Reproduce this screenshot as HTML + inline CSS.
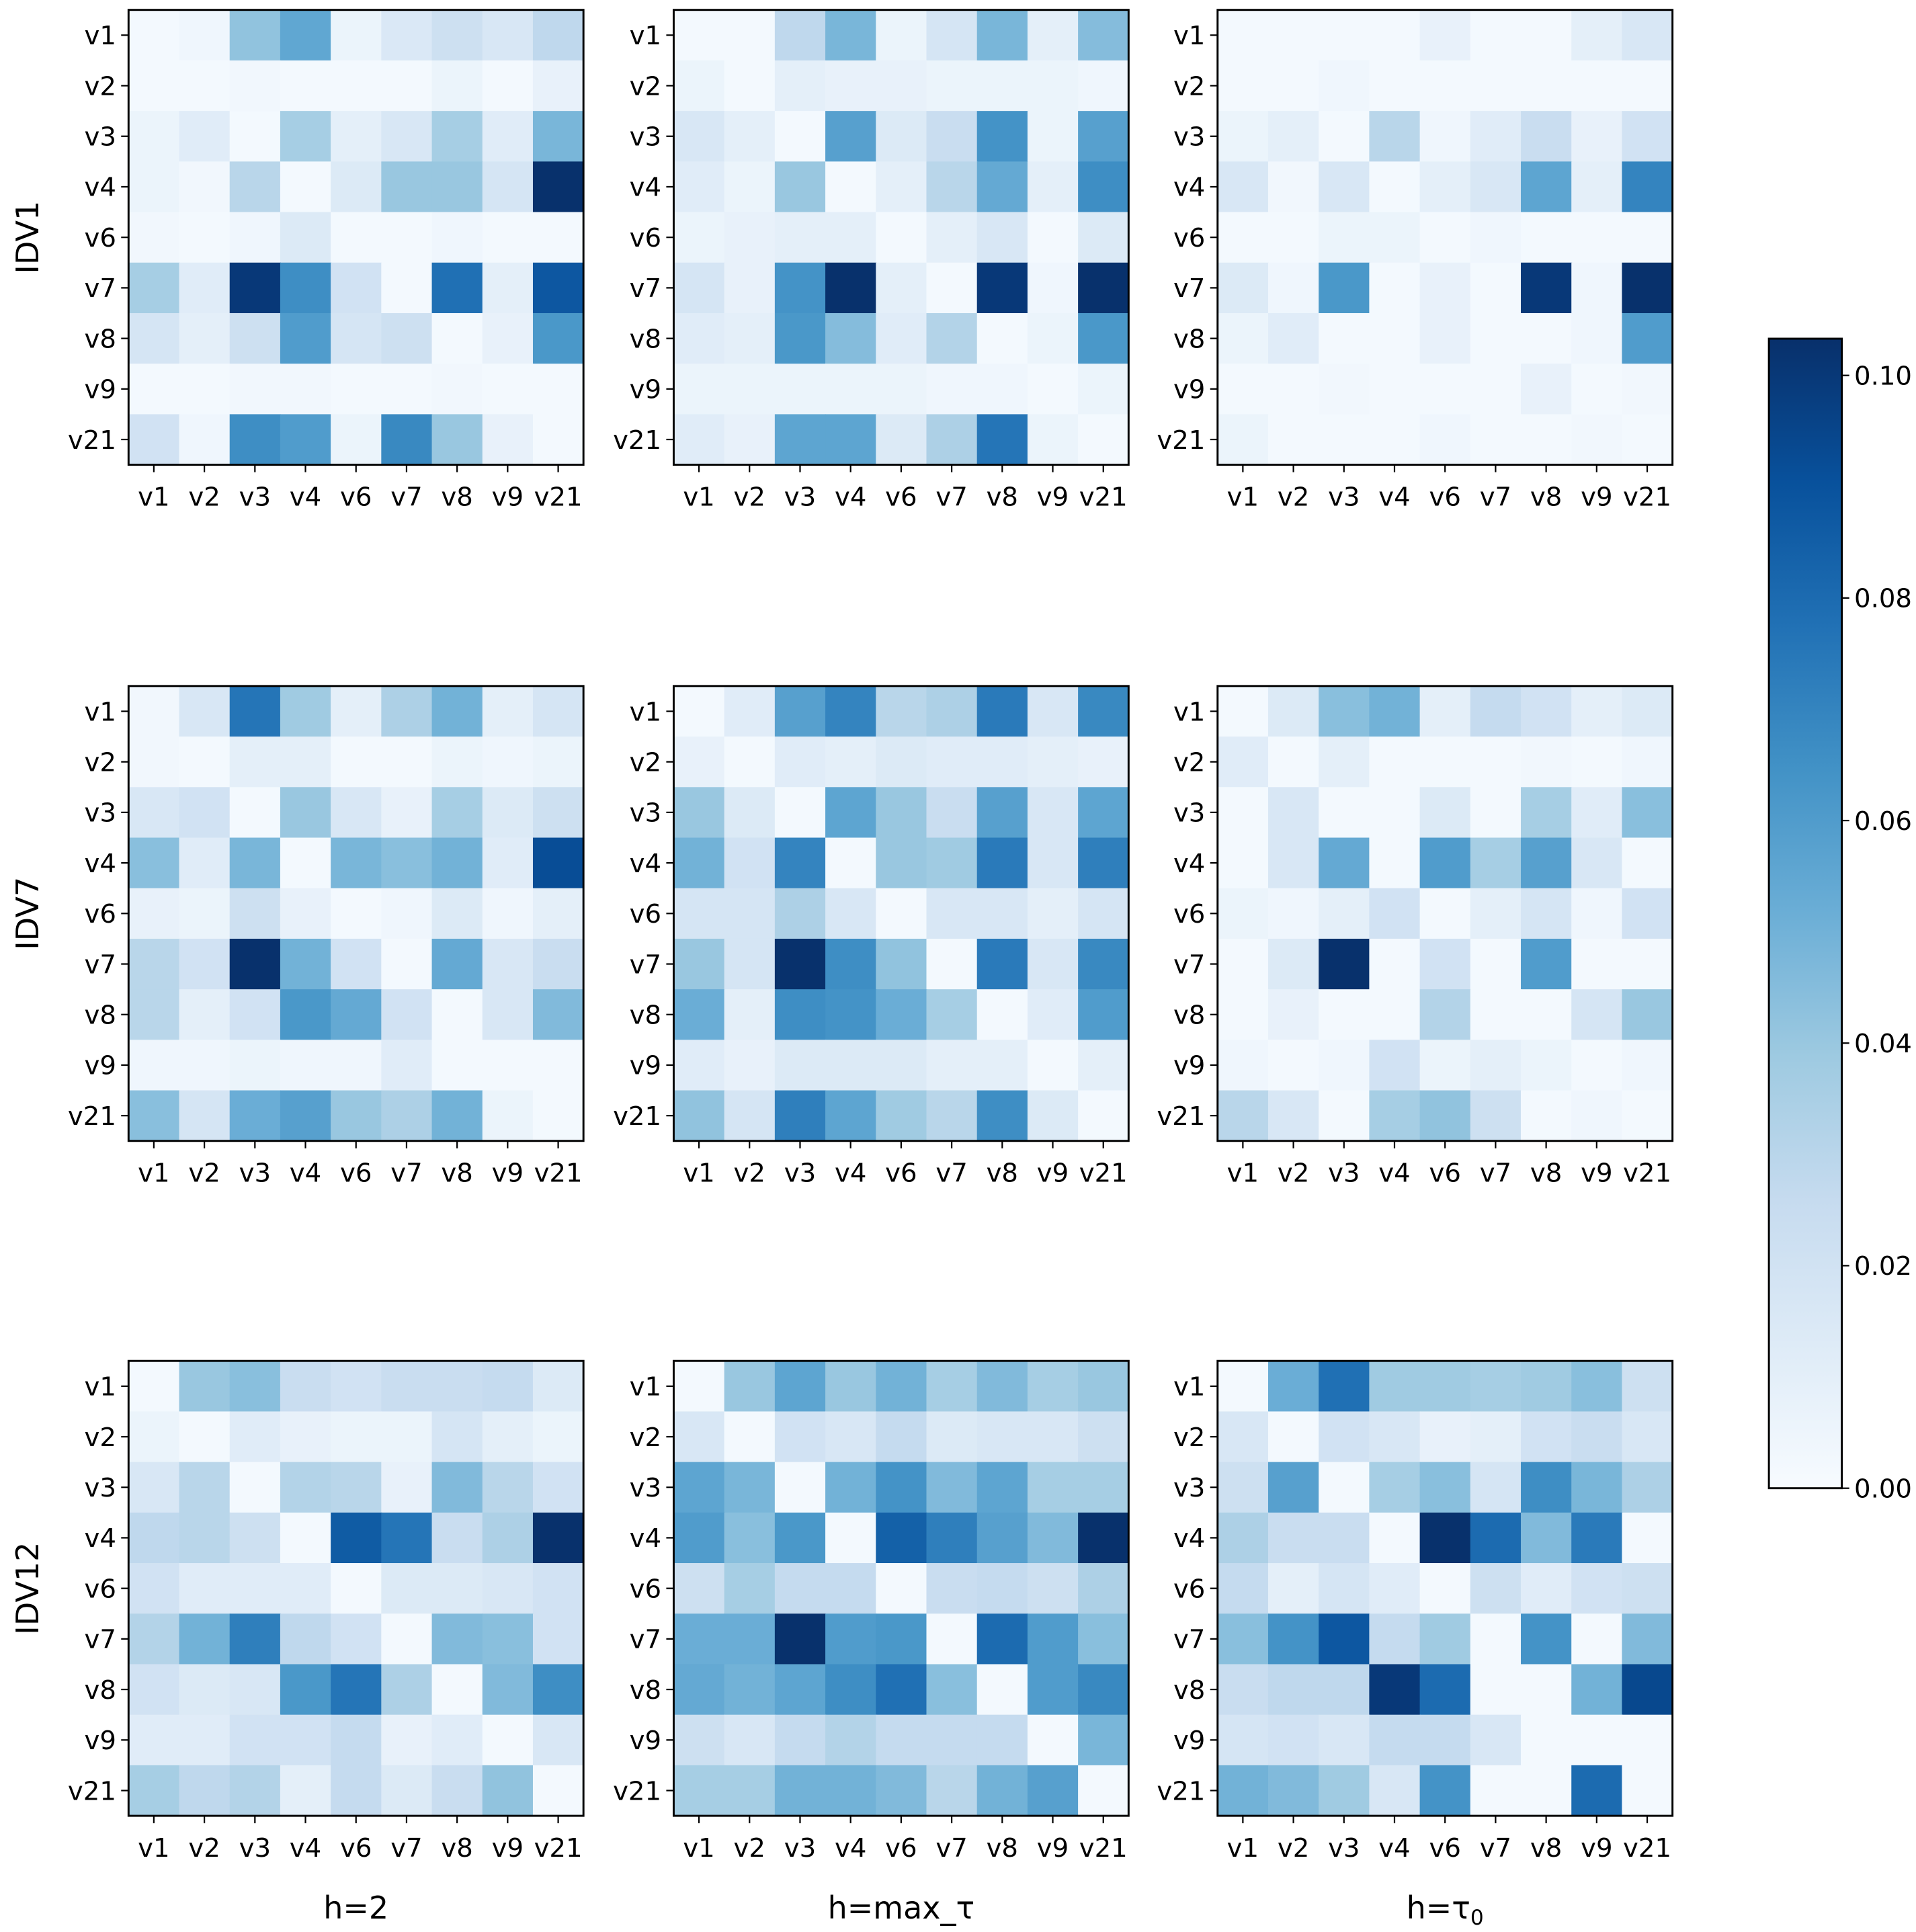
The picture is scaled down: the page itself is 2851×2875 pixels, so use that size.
<!DOCTYPE html>
<html><head><meta charset="utf-8">
<style>
html,body{margin:0;padding:0;background:#fff;}
svg{display:block;font-family:"DejaVu Sans","Liberation Sans",sans-serif;}
</style></head>
<body>
<svg id="fig" width="2851" height="2875" viewBox="0 0 1550 1563" preserveAspectRatio="none" xmlns="http://www.w3.org/2000/svg">
<defs>
<linearGradient id="cbgrad" x1="0" y1="1" x2="0" y2="0">
<stop offset="0" stop-color="#f7fbff"/><stop offset="0.125" stop-color="#deebf7"/><stop offset="0.25" stop-color="#c6dbef"/><stop offset="0.375" stop-color="#9ecae1"/><stop offset="0.5" stop-color="#6baed6"/><stop offset="0.625" stop-color="#4292c6"/><stop offset="0.75" stop-color="#2171b5"/><stop offset="0.875" stop-color="#08519c"/><stop offset="1" stop-color="#08306b"/>
</linearGradient>
</defs>
</svg>
<script>
const vars = ["v1","v2","v3","v4","v6","v7","v8","v9","v21"];
const rowTitles = ["IDV1","IDV7","IDV12"];
const colTitles = ["h=2","h=max_τ","h=τ0"];
const cbTicks = [0,0.02,0.04,0.06,0.08,0.10];
const vmax = 0.1033;
const idv1_h2 = [
[.002,.004,.042,.055,.006,.015,.022,.016,.028],
[.002,.002,.003,.002,.002,.002,.006,.002,.008],
[.006,.012,.002,.036,.010,.016,.036,.012,.048],
[.006,.003,.030,.002,.014,.040,.040,.018,.103],
[.003,.002,.004,.014,.002,.002,.004,.002,.002],
[.036,.012,.100,.066,.020,.002,.078,.010,.088],
[.018,.010,.022,.060,.018,.022,.002,.008,.062],
[.002,.002,.003,.003,.002,.002,.003,.002,.002],
[.020,.004,.066,.060,.006,.068,.040,.008,.002]];
const idv1_max = [
[.002,.002,.028,.048,.006,.018,.048,.010,.045],
[.006,.002,.010,.008,.008,.006,.006,.006,.004],
[.016,.010,.002,.058,.014,.024,.064,.006,.058],
[.012,.006,.040,.002,.010,.030,.054,.010,.066],
[.006,.008,.010,.010,.002,.010,.016,.002,.014],
[.018,.008,.064,.103,.010,.002,.100,.004,.103],
[.012,.010,.062,.045,.012,.032,.002,.006,.062],
[.006,.006,.006,.006,.006,.004,.004,.002,.006],
[.012,.008,.056,.056,.014,.034,.076,.006,.002]];
const idv1_tau0 = [
[.002,.002,.002,.002,.008,.002,.002,.010,.016],
[.002,.002,.004,.002,.002,.002,.002,.002,.002],
[.006,.010,.002,.030,.004,.012,.024,.008,.020],
[.016,.003,.016,.002,.010,.016,.056,.010,.070],
[.002,.002,.006,.006,.002,.004,.002,.002,.002],
[.014,.004,.062,.002,.008,.002,.100,.004,.103],
[.006,.012,.002,.002,.008,.002,.002,.004,.060],
[.002,.002,.003,.002,.002,.002,.008,.002,.003],
[.006,.002,.002,.002,.004,.002,.002,.003,.002]];
const idv7_h2 = [
[.003,.016,.076,.038,.010,.034,.050,.010,.018],
[.003,.002,.010,.010,.002,.002,.006,.004,.006],
[.016,.020,.002,.040,.016,.008,.036,.014,.022],
[.044,.012,.048,.002,.048,.044,.050,.012,.092],
[.008,.006,.022,.008,.002,.004,.014,.004,.010],
[.030,.020,.103,.050,.020,.002,.054,.016,.024],
[.030,.010,.020,.062,.054,.020,.002,.016,.046],
[.004,.004,.006,.004,.004,.012,.002,.002,.002],
[.044,.018,.052,.058,.040,.034,.050,.006,.002]];
const idv7_max = [
[.002,.012,.058,.070,.030,.034,.074,.016,.068],
[.008,.002,.012,.010,.014,.012,.012,.010,.008],
[.040,.014,.002,.056,.040,.024,.058,.016,.056],
[.050,.020,.070,.002,.040,.038,.074,.016,.072],
[.018,.018,.034,.016,.002,.016,.016,.010,.018],
[.040,.018,.103,.066,.042,.002,.074,.016,.068],
[.052,.010,.066,.064,.052,.036,.002,.012,.060],
[.012,.008,.014,.014,.014,.010,.010,.002,.010],
[.042,.018,.072,.056,.038,.030,.066,.014,.002]];
const idv7_tau0 = [
[.002,.014,.044,.050,.010,.026,.020,.010,.014],
[.012,.002,.010,.002,.002,.002,.003,.002,.004],
[.002,.016,.002,.002,.014,.002,.036,.012,.044],
[.002,.016,.054,.002,.060,.036,.058,.016,.002],
[.006,.004,.010,.020,.002,.010,.018,.004,.020],
[.002,.014,.103,.002,.020,.002,.060,.002,.002],
[.002,.008,.002,.002,.032,.002,.002,.018,.040],
[.004,.002,.004,.020,.006,.010,.006,.002,.004],
[.030,.016,.002,.036,.042,.022,.002,.004,.002]];
const idv12_h2 = [
[.002,.040,.044,.024,.020,.024,.024,.026,.014],
[.006,.002,.012,.008,.006,.006,.018,.010,.006],
[.016,.030,.002,.032,.030,.008,.046,.030,.020],
[.028,.030,.022,.002,.086,.076,.024,.034,.103],
[.020,.012,.012,.012,.002,.014,.014,.016,.020],
[.032,.050,.072,.028,.020,.002,.046,.044,.020],
[.020,.014,.016,.062,.076,.034,.002,.046,.066],
[.012,.012,.020,.020,.026,.008,.012,.002,.016],
[.036,.028,.032,.010,.026,.014,.024,.042,.002]];
const idv12_max = [
[.002,.040,.056,.040,.050,.036,.046,.036,.040],
[.016,.002,.020,.016,.026,.014,.016,.016,.022],
[.056,.048,.002,.050,.064,.046,.056,.036,.036],
[.060,.044,.062,.002,.084,.072,.058,.046,.103],
[.022,.036,.026,.026,.002,.024,.026,.022,.034],
[.052,.052,.103,.060,.062,.002,.080,.060,.044],
[.054,.050,.056,.066,.078,.044,.002,.060,.068],
[.022,.016,.026,.032,.026,.026,.026,.002,.048],
[.036,.036,.050,.050,.046,.030,.050,.058,.002]];
const idv12_tau0 = [
[.002,.052,.078,.038,.038,.036,.038,.044,.022],
[.016,.002,.020,.016,.008,.010,.020,.024,.016],
[.022,.058,.002,.036,.044,.018,.066,.048,.034],
[.034,.024,.024,.002,.103,.080,.046,.074,.002],
[.026,.010,.018,.012,.002,.022,.012,.020,.022],
[.044,.064,.088,.026,.038,.002,.064,.002,.046],
[.024,.028,.028,.100,.080,.002,.002,.050,.094],
[.018,.020,.016,.026,.026,.016,.002,.002,.002],
[.050,.046,.038,.016,.064,.002,.002,.080,.002]];
const panels = [[idv1_h2,idv1_max,idv1_tau0],[idv7_h2,idv7_max,idv7_tau0],[idv12_h2,idv12_max,idv12_tau0]];

const NS="http://www.w3.org/2000/svg";
const svg=document.getElementById('fig');
const stops=["#f7fbff","#deebf7","#c6dbef","#9ecae1","#6baed6","#4292c6","#2171b5","#08519c","#08306b"].map(h=>[parseInt(h.substr(1,2),16),parseInt(h.substr(3,2),16),parseInt(h.substr(5,2),16)]);
function cmap(v){let t=Math.max(0,Math.min(1,v/vmax))*8;let i=Math.min(7,Math.floor(t));let f=t-i;const a=stops[i],b=stops[i+1];return `rgb(${a.map((c,k)=>Math.round(c+(b[k]-c)*f)).join(',')})`;}
function el(tag,attrs,parent){const e=document.createElementNS(NS,tag);for(const k in attrs)e.setAttribute(k,attrs[k]);(parent||svg).appendChild(e);return e;}
const colX=[104,545,985], rowY=[8,555,1101], size=368, n=vars.length, cell=size/n;
function xPos(px,j){return colX[px]+j*cell;}
function yPos(py,i){return rowY[py]+i*cell;}
for(let r=0;r<3;r++)for(let c=0;c<3;c++){
  const g=el('g',{});
  
  
  const d=panels[r][c];
  for(let i=0;i<n;i++)for(let j=0;j<n;j++){
    const rc=el('rect',{x:xPos(c,j),y:yPos(r,i),width:cell+0.6,height:cell+0.6,fill:cmap(d[i][j])},g);
    
    
  }
  el('rect',{x:colX[c],y:rowY[r],width:size,height:size,fill:'none',stroke:'#000','stroke-width':1.6},g);
  for(let k=0;k<n;k++){
    const xx=xPos(c,k)+cell/2, yy=yPos(r,k)+cell/2;
    el('line',{x1:xx,x2:xx,y1:rowY[r]+size,y2:rowY[r]+size+6,stroke:'#000','stroke-width':1.2},g);
    el('line',{x1:colX[c]-6,x2:colX[c],y1:yy,y2:yy,stroke:'#000','stroke-width':1.2},g);
    const tx=el('text',{x:xx,y:rowY[r]+size+33,'text-anchor':'middle','font-size':21},g);tx.textContent=vars[k];
    
    
    const ty=el('text',{x:colX[c]-10,y:yy+7.5,'text-anchor':'end','font-size':21},g);ty.textContent=vars[k];
    
    
  }
}
for(let r=0;r<3;r++){
  const cy=rowY[r]+size/2;
  const t=el('text',{x:0,y:0,'text-anchor':'middle','font-size':25,transform:`translate(31,${cy}) rotate(-90)`});t.textContent=rowTitles[r];
  
  
}
for(let c=0;c<3;c++){
  const t=el('text',{x:colX[c]+size/2,y:1552,'text-anchor':'middle','font-size':25});
  if(c===2){t.textContent='h=τ';const s=el('tspan',{'font-size':17,dy:5},t);s.textContent='0';}
  else t.textContent=colTitles[c];
  
  
}
const cbX=1431,cbW=59,cbTop=274,cbBot=1204;
function cbY(v){return cbBot-(v/vmax)*(cbBot-cbTop);}
const cb=el('g',{});


el('rect',{x:cbX,y:cbTop,width:cbW,height:cbBot-cbTop,fill:'url(#cbgrad)',stroke:'#000','stroke-width':1.6},cb);
cbTicks.forEach(v=>{
  const y=cbY(v);
  el('line',{x1:cbX+cbW,x2:cbX+cbW+6,y1:y,y2:y,stroke:'#000','stroke-width':1.2},cb);
  const t=el('text',{x:cbX+cbW+10,y:y+7.5,'font-size':21},cb);t.textContent=v.toFixed(2);
  
  
});
</script>
</body></html>
